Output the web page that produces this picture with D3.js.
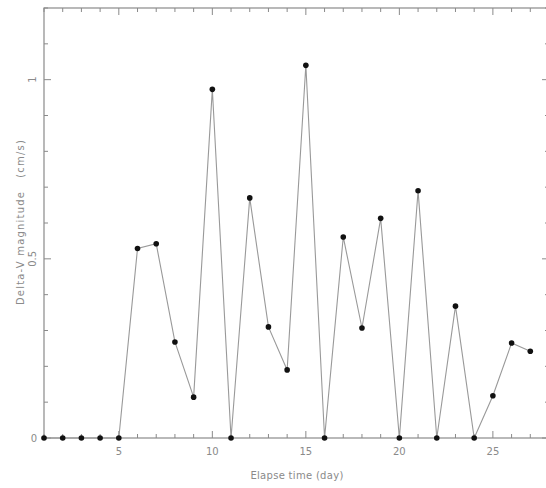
<!DOCTYPE html>
<html><head><meta charset="utf-8">
<script src="https://cdn.jsdelivr.net/npm/d3@7"></script>
<style>body{margin:0;background:#fff}svg{display:block}</style>
</head><body>
<script>
const days = [1,2,3,4,5,6,7,8,9,10,11,12,13,14,15,16,17,18,19,20,21,22,23,24,25,26,27];
const deltaV = [0,0,0,0,0,0.529,0.542,0.268,0.114,0.973,0,0.670,0.310,0.190,1.040,0,0.561,0.307,0.613,0,0.690,0,0.368,0,0.118,0.265,0.242];
const xMajorTicks = [5,10,15,20,25];
const yMajorTicks = [0,0.5,1];
const yTickLabels = ["0","0.5","1"];
const xLabel = "Elapse time (day)";
const yLabel = "Delta-V magnitude   (cm/s)";

(function(){
const W=546,H=488;
const mLeft=44, mTop=8, mBottom=438, mRight=549;
const svg=d3.select("body").append("svg").attr("width",W).attr("height",H);
const x=d3.scaleLinear().domain([1,28]).range([mLeft,mRight]);
const y=d3.scaleLinear().domain([0,1.2]).range([mBottom,mTop]);
const axisCol="#8a8a8a", textCol="#8a8a8a";
const font="DejaVu Sans, sans-serif";

svg.append("rect").attr("x",mLeft).attr("y",mTop).attr("width",mRight-mLeft).attr("height",mBottom-mTop)
  .attr("fill","none").attr("stroke",axisCol).attr("stroke-width",1.2);

const xMinor=d3.range(1,28.01,1), yMinor=d3.range(0,1.201,0.1);
const g=svg.append("g").attr("stroke",axisCol).attr("stroke-width",1);
xMinor.forEach(d=>{
  const len = xMajorTicks.includes(d)?7:4;
  g.append("line").attr("x1",x(d)).attr("x2",x(d)).attr("y1",mBottom).attr("y2",mBottom-len);
  g.append("line").attr("x1",x(d)).attr("x2",x(d)).attr("y1",mTop).attr("y2",mTop+len);
});
yMinor.forEach(d=>{
  const maj = yMajorTicks.some(v=>Math.abs(v-d)<1e-6);
  const len = maj?7:4;
  g.append("line").attr("y1",y(d)).attr("y2",y(d)).attr("x1",mLeft).attr("x2",mLeft+len);
  g.append("line").attr("y1",y(d)).attr("y2",y(d)).attr("x1",mRight).attr("x2",mRight-len);
});

svg.append("g").selectAll("text").data(xMajorTicks).join("text")
  .attr("x",d=>x(d)).attr("y",mBottom+17).attr("text-anchor","middle")
  .attr("font-family",font).attr("font-size",10).attr("fill",textCol).text(d=>d);
svg.append("g").selectAll("text").data(yMajorTicks).join("text")
  .attr("transform",(d,i)=>`translate(${mLeft-8},${y(d)}) rotate(${i===0?0:-90})`)
  .attr("text-anchor","middle").attr("dy",(d,i)=>i===0?"0.35em":"0")
  .attr("dx",(d,i)=>i===0?"-2":"0")
  .attr("font-family",font).attr("font-size",10).attr("fill",textCol).text((d,i)=>yTickLabels[i]);

svg.append("text").attr("x",297).attr("y",479).attr("text-anchor","middle")
  .attr("font-family",font).attr("font-size",10).attr("letter-spacing",0.3).attr("fill",textCol).text(xLabel);
svg.append("text").attr("transform",`translate(24,222) rotate(-90)`).attr("text-anchor","middle")
  .style("white-space","pre")
  .attr("font-family",font).attr("font-size",10).attr("letter-spacing",1.2).attr("fill",textCol).text(yLabel);

const data=days.map((d,i)=>[d,deltaV[i]]);
svg.append("path").datum(data).attr("d",d3.line().x(d=>x(d[0])).y(d=>y(d[1])))
  .attr("fill","none").attr("stroke","#999").attr("stroke-width",1.1);
svg.append("g").selectAll("circle").data(data).join("circle")
  .attr("cx",d=>x(d[0])).attr("cy",d=>y(d[1])).attr("r",2.8).attr("fill","#111");
})();
</script>
</body></html>
